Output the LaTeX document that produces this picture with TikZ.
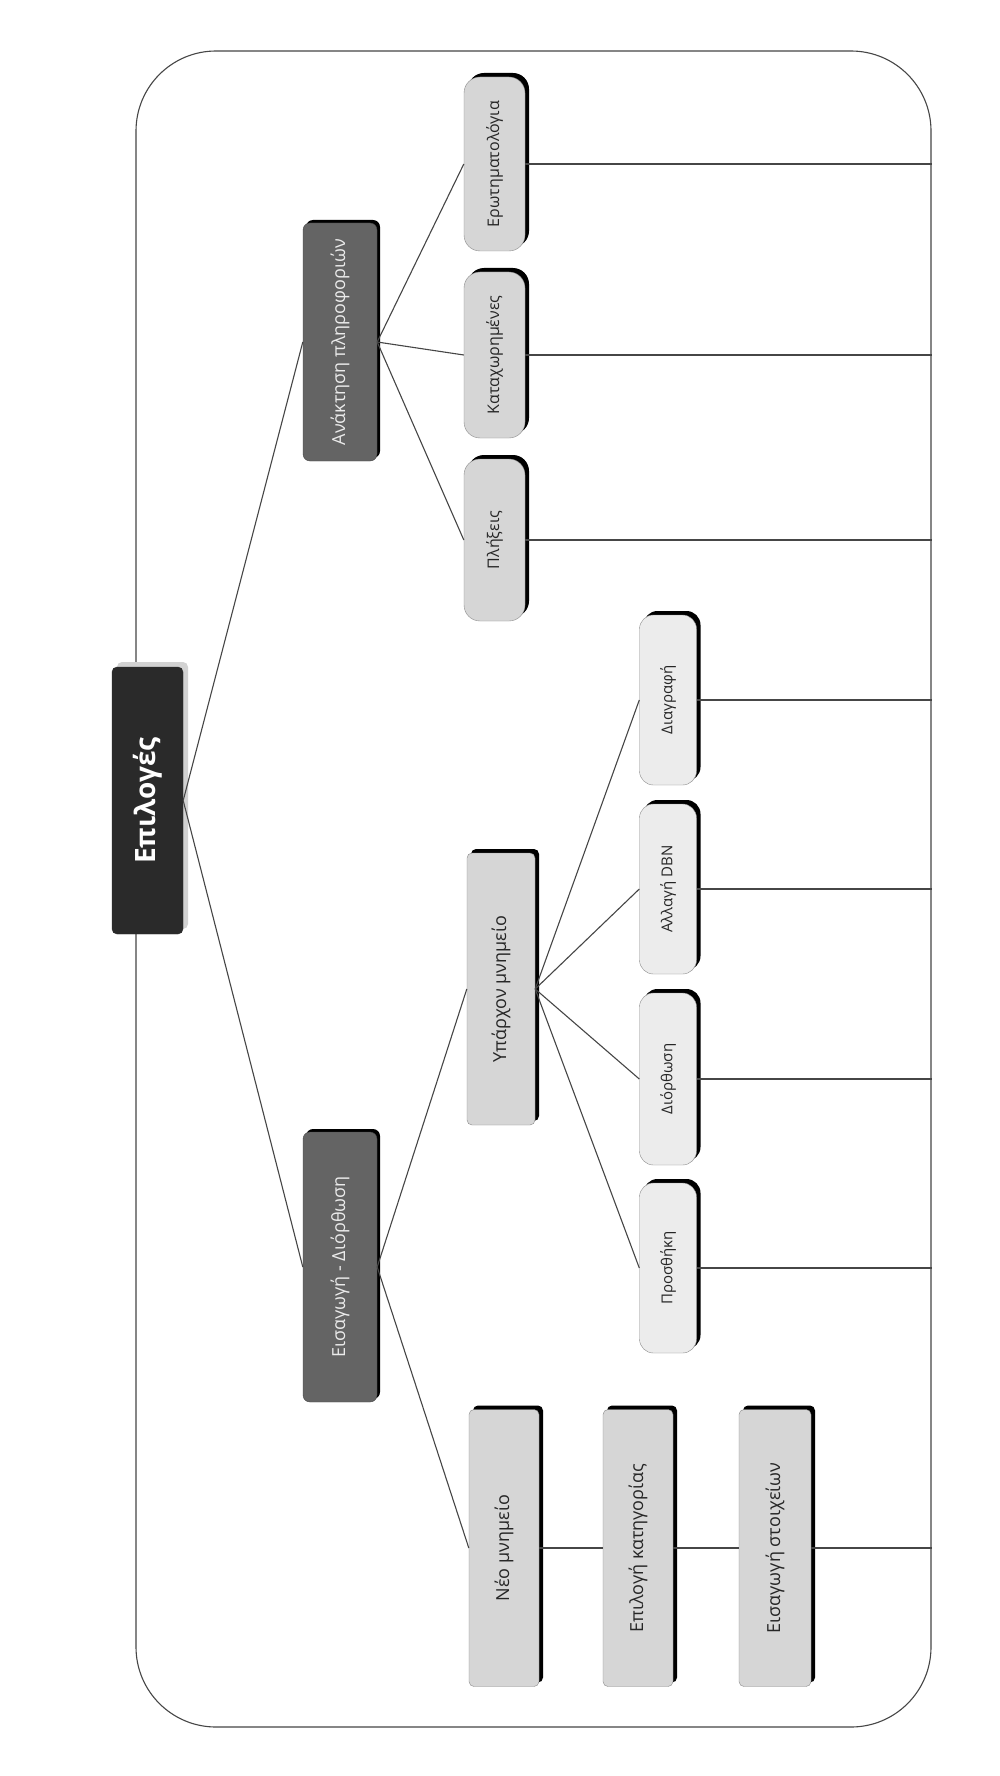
\documentclass[tikz,border=0pt]{standalone}
\usepackage{fontspec}
\setmainfont{Open Sans}
\usepackage{graphicx}
\definecolor{dmdark}{RGB}{42,42,42}
\definecolor{dmmid}{RGB}{100,100,100}
\definecolor{dmlight}{RGB}{214,214,214}
\definecolor{dmpale}{RGB}{236,236,236}
\definecolor{dmline}{RGB}{70,70,70}
\definecolor{dmedge}{RGB}{140,140,140}
\usetikzlibrary{shadows}
\newcommand{\vtext}[1]{\rotatebox{90}{#1}}

\begin{document}
\begin{tikzpicture}[x=1pt, y=-1pt,
  framebox/.style={draw=dmline, line width=1.1pt, rounded corners=80pt,
    minimum width=795pt, minimum height=1676pt, inner sep=0pt},
  rootbox/.style={fill=dmdark, draw=dmdark, rounded corners=5pt, text=white,
    font=\fontsize{28}{30}\selectfont\bfseries, inner sep=0pt,
    drop shadow={shadow xshift=5pt, shadow yshift=5pt, fill=gray!35, opacity=1}},
  groupbox/.style={fill=dmmid, draw=dmmid!70!black, rounded corners=7pt,
    text=white!92!black, font=\fontsize{18}{20}\selectfont, minimum width=74pt,
    inner sep=0pt, drop shadow={shadow xshift=3pt, shadow yshift=3pt, fill=black, opacity=1}},
  sourcebox/.style={fill=dmlight, draw=dmedge, rounded corners=16pt,
    text=black!85, font=\fontsize{16}{18}\selectfont, minimum width=61pt,
    inner sep=0pt, drop shadow={shadow xshift=4pt, shadow yshift=4pt, fill=black, opacity=1}},
  itembox/.style={fill=dmlight, draw=dmedge, rounded corners=5pt,
    text=black!85, font=\fontsize{18}{20}\selectfont, minimum width=70pt,
    minimum height=277pt, inner sep=0pt,
    drop shadow={shadow xshift=4pt, shadow yshift=4pt, fill=black, opacity=1}},
  actbox/.style={fill=dmpale, draw=dmedge, rounded corners=14pt,
    text=black!85, font=\fontsize{15}{17}\selectfont, minimum width=57pt,
    minimum height=170pt, inner sep=0pt,
    drop shadow={shadow xshift=4pt, shadow yshift=4pt, fill=black, opacity=1}},
  link/.style={draw=dmline, line width=1.1pt}]

\fill[white] (0,0) rectangle (1000,1776);
\useasboundingbox (0,0) rectangle (1000,1776);

% Frame
\node[framebox] (frame) at (533.5,889) {};

% Root
\node[rootbox, minimum width=71pt, minimum height=267pt] (root) at (147.5,800.5)
  {\vtext{Επιλογές}};

% Groups
\node[groupbox, minimum height=238pt] (anakt) at (340,342)
  {\vtext{Ανάκτηση πληροφοριών}};
\node[groupbox, minimum height=270pt] (eisag) at (340,1267)
  {\vtext{Εισαγωγή - Διόρθωση}};

% Retrieval sources
\node[sourcebox, minimum height=174pt] (erot) at (494.5,164)
  {\vtext{Ερωτηματολόγια}};
\node[sourcebox, minimum height=166pt] (katax) at (494.5,355)
  {\vtext{Καταχωρημένες}};
\node[sourcebox, minimum height=162pt] (plix) at (494.5,540)
  {\vtext{Πλήξεις}};

% Existing monument
\node[itembox, minimum width=68pt, minimum height=272pt] (yparx) at (501,989)
  {\vtext{Υπάρχον μνημείο}};

% Actions
\node[actbox] (diagr) at (668,700) {\vtext{Διαγραφή}};
\node[actbox] (allag) at (668,889) {\vtext{Αλλαγή DBN}};
\node[actbox, minimum height=172pt] (dior) at (668,1079) {\vtext{Διόρθωση}};
\node[actbox] (prosth) at (668,1268) {\vtext{Προσθήκη}};

% New monument
\node[itembox] (neo) at (504,1548) {\vtext{Νέο μνημείο}};
\node[itembox] (epil) at (638,1548) {\vtext{Επιλογή κατηγορίας}};
\node[itembox, minimum width=72pt] (stoix) at (775,1548) {\vtext{Εισαγωγή στοιχείων}};

% Links
\draw[link] (root.east) -- (anakt.west);
\draw[link] (root.east) -- (eisag.west);
\draw[link] (anakt.east) -- (erot.west);
\draw[link] (anakt.east) -- (katax.west);
\draw[link] (anakt.east) -- (plix.west);
\draw[link] (eisag.east) -- (yparx.west);
\draw[link] (eisag.east) -- (neo.west);
\draw[link] (yparx.east) -- (diagr.west);
\draw[link] (yparx.east) -- (allag.west);
\draw[link] (yparx.east) -- (dior.west);
\draw[link] (yparx.east) -- (prosth.west);
\draw[link] (neo.east) -- (epil.west);
\draw[link] (epil.east) -- (stoix.west);

% Links to frame
\draw[link] (erot.east) -- (erot.east -| frame.east);
\draw[link] (katax.east) -- (katax.east -| frame.east);
\draw[link] (plix.east) -- (plix.east -| frame.east);
\draw[link] (diagr.east) -- (diagr.east -| frame.east);
\draw[link] (allag.east) -- (allag.east -| frame.east);
\draw[link] (dior.east) -- (dior.east -| frame.east);
\draw[link] (prosth.east) -- (prosth.east -| frame.east);
\draw[link] (stoix.east) -- (stoix.east -| frame.east);

\end{tikzpicture}
\end{document}
